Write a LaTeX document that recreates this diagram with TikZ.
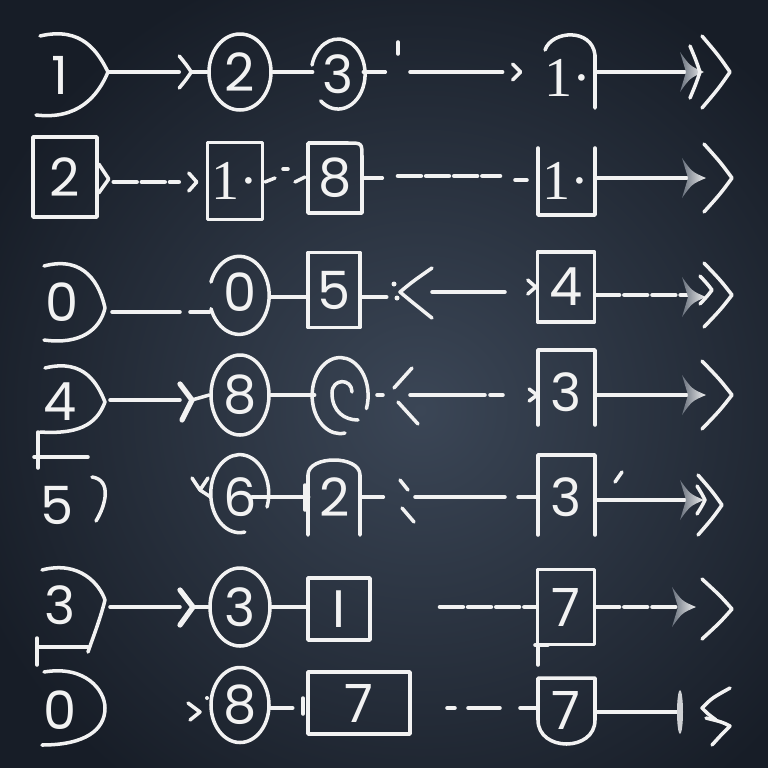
\documentclass[tikz,border=0pt]{standalone}
\usepackage{fontspec}
\setmainfont{Poppins}
\newfontfamily\serfont{Liberation Serif}
\usetikzlibrary{shapes.geometric,calc}
\definecolor{fg}{HTML}{F2F2F2}
\definecolor{bgin}{HTML}{3B4656}
\definecolor{bgout}{HTML}{171D27}
\tikzset{
 ln/.style={draw=fg, line width=2pt, line cap=round, line join=round},
 lbl/.style={text=fg, font=\fontsize{30}{30}\selectfont, inner sep=0pt},
 wh/.style 2 args={minimum width=#1*0.02cm, minimum height=#2*0.02cm},
 bx/.style={ln, lbl, rectangle},
 el/.style={ln, lbl, ellipse},
 ghost/.style={lbl},
 serlbl/.style={font=\fontsize{32}{32}\serfont},
 dsh/.style={ln, line width=2.6pt, dash pattern=on 13pt off 3pt},
 pics/chev/.style 2 args={code={\draw[ln] (-#1,-#2) .. controls (-#1*0.4,-#2*0.45) .. (0,0) .. controls (-#1*0.4,#2*0.45) .. (-#1,#2);}},
 pics/tip/.style={code={\shade[left color=fg!25!bgin, right color=fg] (-18,-20) .. controls (-8,-6) .. (6,0) .. controls (-8,6) .. (-18,20) -- (-12,0) -- cycle;}}
}
\begin{document}
\begin{tikzpicture}[x=0.02cm,y=-0.02cm]
\useasboundingbox (0,0) rectangle (768,768);
\shade[inner color=bgin, outer color=bgout] (-60,-60) rectangle (900,880);

% ---------- Row 1
\node[ghost, wh={50}{70}] (n11) at (60,75) {1};
\draw[ln] (40,36) .. controls (82,26) and (98,52) .. (108,72) .. controls (98,96) and (78,120) .. (36,115);
\coordinate (p11) at (108,72);
\node[el, wh={62}{76}] (n12) at (240,72) {2};
\draw[ln] (p11) -- ($(n12.west)+(-28,0)$);
\pic at ($(n12.west)+(-16,0)$) {chev={12}{16}};
\draw[ln] ($(n12.west)+(-16,0)$) -- (n12.west);
\node[ghost, wh={50}{70}] (n13) at (338,74) {3};
\draw[ln] ($(n13.center)+(-26,-9)$) arc[start angle=-165, end angle=130, x radius=27, y radius=35];
\draw[ln] (n12.east) -- (n13.west |- n12.east);
\draw[ln] (n13.east |- n12.east) -- ++(22,0);
\draw[ln] (398,42) -- (398,54);
\node[ghost, wh={50}{70}, serlbl] (n14) at (568,78) {1\textperiodcentered};
\coordinate (q14) at (n14.west |- n12.east);
\draw[ln] (410,72) -- ($(q14)+(-40,0)$);
\pic at ($(q14)+(-22,0)$) {chev={8}{8}};
\draw[ln] (545,50) .. controls (552,30) and (592,28) .. (595,55) -- (595,108);
\draw[ln] (597,72) -- (690,72);
\pic at (698,72) {tip};
\pic at (730,72) {chev={28}{36}};
\pic at (700,72) {chev={10}{26}};

% ---------- Row 2
\node[bx, wh={64}{80}] (n21) at (65,177) {2};
\draw[ln] ($(n21.east)+(0,-13)$) -- ($(n21.east)+(10,2)$) -- ($(n21.east)+(0,16)$);
\node[bx, wh={55}{77}, serlbl] (n22) at (235,181) {1\textperiodcentered};
\draw[dsh] ($(n21.east)+(15,5)$) -- ($(n22.west)+(-27,1)$);
\pic at ($(n22.west)+(-9,1)$) {chev={8}{9}};
\draw[ln] (265,182) -- (275,178);
\draw[ln] (283,169) -- (288,169);
\draw[ln] (295,182) -- (305,177);
\node[ghost, wh={54}{70}] (n23) at (335,178) {8};
\draw[ln] (308,213) -- (308,143) -- (348,143) .. controls (362,143) .. (362,157) -- (362,213) -- cycle;
\draw[ln] (n23.east) -- ++(20,0);
\draw[dsh] (398,176) -- (500,176);
\draw[ln] (515,180) -- (527,180);
\node[ghost, wh={57}{67}, serlbl] (n24) at (566,181) {1\textperiodcentered};
\draw[ln] (538,148) -- (538,215) -- (595,215) -- (595,148);
\draw[ln] (n24.east |- 0,178) -- (692,178);
\pic at (700,178) {tip};
\pic at (732,178) {chev={28}{34}};

% ---------- Row 3
\node[ghost, wh={50}{60}] (n31) at (62,302) {0};
\draw[ln] (44,266) .. controls (85,255) and (100,285) .. (105,308) .. controls (100,330) and (80,345) .. (44,340);
\node[ghost, wh={60}{78}] (n32) at (240,292) {0};
\draw[ln] ($(n32.center)+(-29,-10)$) arc[start angle=-160, end angle=160, x radius=30, y radius=39];
\draw[ln] (112,312) -- (180,312);
\draw[ln] (190,312) -- (n32.west |- 0,312);
\node[bx, wh={52}{75}] (n33) at (334,290) {5};
\draw[ln] (n32.east |- 0,297) -- (n33.west |- 0,297);
\draw[ln] (n33.east |- 0,297) -- ++(25,0);
\draw[ln] (432,268) .. controls (412,282) .. (400,292) .. controls (412,302) .. (432,318);
\fill[fg] (394,284) circle[radius=2.5];
\fill[fg] (397,298) circle[radius=2.5];
\node[bx, wh={57}{70}] (n34) at (566,287) {4};
\draw[ln] (432,292) -- (505,292);
\pic at (n34.west) {chev={8}{7}};
\draw[dsh] (n34.east |- 0,295) -- (692,295);
\pic at (700,297) {tip};
\pic at (732,295) {chev={28}{32}};
\pic at (712,290) {chev={12}{14}};

% ---------- Row 4
\node[ghost, wh={50}{60}] (n41) at (60,402) {4};
\draw[ln] (45,368) .. controls (85,358) and (98,385) .. (105,402) .. controls (98,420) and (85,435) .. (40,432);
\node[el, wh={58}{80}] (n42) at (240,395) {8};
\draw[ln] (110,400) -- (180,400);
\draw[ln, line width=3pt] (180,384) -- (192,400) -- (182,420);
\draw[ln] (192,400) -- (n42.west);
\node[ghost, wh={50}{72}] (n43) at (340,395) {};
\draw[ln] ($(n43.center)+(5,38)$) arc[start angle=80, end angle=380, x radius=28, y radius=38];
\draw[ln] (352,392) .. controls (352,378) and (332,378) .. (332,393) .. controls (332,412) and (345,420) .. (358,420);
\draw[ln] (n42.east) -- (n43.west);
\draw[ln] (377,395) -- (383,395);
\draw[ln] (412,368) -- (394,388);
\draw[ln] (398,402) -- (418,424);
\node[ghost, wh={57}{75}] (n44) at (566,392) {3};
\draw[ln] (538,425) -- (538,350) -- (595,350) -- (595,425);
\draw[ln] (410,395) -- (485,395);
\draw[ln] (490,395) -- (503,395);
\pic at (n44.west |- 0,395) {chev={8}{6}};
\draw[ln] (n44.east |- 0,395) -- (688,395);
\pic at (700,395) {tip};
\pic at (732,395) {chev={30}{34}};

% ---------- Row 5
\draw[ln] (38,432) -- (38,468);
\draw[ln] (34,457) -- (88,457);
\draw[ln] (92,477) .. controls (112,480) and (106,505) .. (96,521);
\node[ghost, wh={40}{50}] (n51) at (57,505) {5};
\node[ghost, wh={58}{78}] (n52) at (240,497) {6};
\draw[ln] ($(n52.center)+(27,10)$) arc[start angle=20, end angle=-280, x radius=29, y radius=39];
\draw[ln] (192,478) -- (200,490) -- (208,478);
\draw[ln] (200,490) -- (n52.west);
\node[ghost, wh={52}{75}] (n53) at (335,497) {2};
\draw[ln] (308,535) -- (308,475) .. controls (308,455) and (360,455) .. (360,475) -- (360,535);
\draw[ln] (n52.center) ++(12,0) -- (n53.west);
\draw[ln] (305,485) -- (305,510);
\draw[ln] (n53.east) -- ++(22,0);
\draw[ln] (400,480) -- (408,490);
\draw[ln] (402,508) -- (414,522);
\node[ghost, wh={57}{78}] (n54) at (566,497) {3};
\draw[ln] (538,535) -- (538,455) -- (595,455) -- (595,535);
\draw[ln] (415,497) -- (505,497);
\draw[ln] (518,497) -- (n54.west |- 0,497);
\draw[ln] (n54.east |- 0,500) -- (688,500);
\draw[ln] (615,482) -- (622,472);
\pic at (698,500) {tip};
\pic at (722,505) {chev={24}{30}};
\pic at (705,500) {chev={8}{14}};

% ---------- Row 6
\node[ghost, wh={45}{55}] (n61) at (60,605) {3};
\draw[ln] (42,570) .. controls (80,560) and (100,585) .. (105,600) .. controls (100,620) and (92,640) .. (88,652);
\draw[ln] (37,647) -- (88,647);
\draw[ln] (37,638) -- (37,665);
\node[el, wh={60}{78}] (n62) at (240,607) {3};
\draw[ln] (110,607) -- (180,607);
\draw[ln, line width=3pt] (180,590) -- (193,607) -- (180,625);
\draw[ln] (193,607) -- (n62.west);
\node[bx, wh={62}{62}] (n63) at (339,609) {I};
\draw[ln] (n62.east) -- (n63.west |- 0,607);
\node[bx, wh={57}{75}] (n64) at (566,607) {7};
\draw[dsh] (440,607) -- (n64.west);
\draw[ln] (535,645) -- (548,645);
\draw[ln] (538,645) -- (538,665);
\draw[dsh] (n64.east) -- (682,607);
\pic at (690,607) {tip};
\pic at (732,609) {chev={30}{30}};

% ---------- Row 7
\node[ghost, wh={45}{55}] (n71) at (60,710) {0};
\draw[ln] (44,672) .. controls (85,665) and (105,690) .. (105,708) .. controls (105,730) and (85,745) .. (42,745);
\node[el, wh={58}{75}] (n72) at (240,705) {8};
\draw[ln] (188,703) -- (200,712) -- (190,720);
\fill[fg] (207,698) circle[radius=2];
\node[bx, wh={102}{62}] (n73) at (359,703) {7};
\draw[ln] (n72.east |- 0,708) -- ++(22,0);
\draw[ln] (303,698) -- (303,714);
\node[ghost, wh={57}{67}] (n74) at (566,710) {7};
\draw[ln] (538,678) -- (595,678) -- (595,720) .. controls (595,752) and (538,752) .. (538,720) -- cycle;
\draw[ln] (447,708) -- (455,708);
\draw[ln] (468,708) -- (500,708);
\draw[ln] (520,708) -- (n74.west |- 0,708);
\draw[ln] (n74.east |- 0,712) -- (680,712);
\fill[fg!80!bgin] (680,712) ellipse[x radius=3, y radius=22];
\draw[ln] (730,688) .. controls (712,698) .. (702,708) .. controls (708,714) .. (716,720);
\draw[ln] (706,718) .. controls (722,722) .. (730,726) .. controls (722,734) .. (712,745);
\end{tikzpicture}
\end{document}
